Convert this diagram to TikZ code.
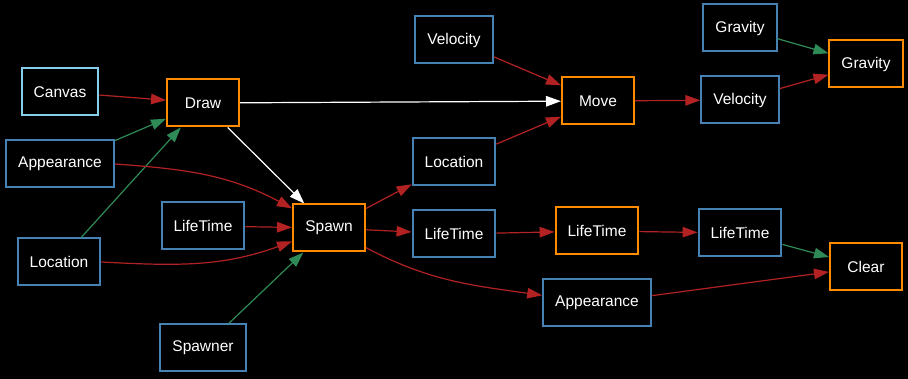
\documentclass[tikz,border=0pt]{standalone}
\usepackage{fontspec}
\setmainfont{Liberation Sans}
\usetikzlibrary{arrows.meta}

\definecolor{compblue}{HTML}{4682B4}
\definecolor{skyblue}{HTML}{87CEEB}
\definecolor{sysorange}{HTML}{FF8C00}
\definecolor{readred}{HTML}{B22222}
\definecolor{writegreen}{HTML}{2E8B57}

\tikzset{
  box/.style={draw, line width=2pt, text=white, minimum width=72pt,
    minimum height=47pt, inner xsep=12pt,
    font=\fontsize{15.5}{18}\selectfont},
  comp/.style={box, draw=compblue},
  res/.style={box, draw=skyblue},
  sys/.style={box, draw=sysorange},
  tip/.style={line width=1.2pt, -{Triangle[length=15pt,width=10.5pt]}},
  rd/.style={tip, draw=readred, readred},
  wr/.style={tip, draw=writegreen, writegreen},
  dep/.style={tip, draw=white, white}
}

\begin{document}
\begin{tikzpicture}[x=1pt,y=-1pt]

\fill[black] (0,0) rectangle (908,379);
\useasboundingbox (0,0) rectangle (908,379);

%% vertices
\node[res]  (canvas)      at (60,92)   {Canvas};
\node[sys]  (draw)        at (203,103) {Draw};
\node[comp] (appearanceA) at (60,164)  {Appearance};
\node[comp] (locationA)   at (59,262)  {Location};
\node[comp] (lifetimeA)   at (203,226) {LifeTime};
\node[comp] (spawner)     at (203,348) {Spawner};
\node[sys]  (spawn)       at (329,228) {Spawn};
\node[comp] (velocityA)   at (454,40)  {Velocity};
\node[comp] (locationB)   at (454,162) {Location};
\node[comp] (lifetimeB)   at (454,234) {LifeTime};
\node[sys]  (move)        at (598,101) {Move};
\node[sys]  (lifetimeC)   at (597,231) {LifeTime};
\node[comp] (appearanceB) at (597,303) {Appearance};
\node[comp] (gravityA)    at (740,28)  {Gravity};
\node[comp] (velocityB)   at (740,100) {Velocity};
\node[comp] (lifetimeD)   at (740,233) {LifeTime};
\node[sys]  (gravityB)    at (866,64)  {Gravity};
\node[sys]  (clear)       at (866,267) {Clear};

%%% edges
\draw[rd] (canvas) -- (draw);
\draw[wr] (appearanceA) -- (draw);
\draw[wr] (locationA) -- (draw);
\draw[rd] (appearanceA.east) to[out=-4,in=152] (spawn);
\draw[rd] (locationA.east) to[out=-3,in=200] (spawn);
\draw[rd] (lifetimeA) -- (spawn);
\draw[wr] (spawner) -- (spawn);
\draw[dep] (draw) -- (spawn);
\draw[dep] (draw) -- (move);

\draw[rd] (velocityA) -- (move);
\draw[rd] (locationB) -- (move);
\draw[rd] (spawn) -- (locationB);
\draw[rd] (spawn) -- (lifetimeB);
\draw[rd] (spawn) to[out=-28,in=172] (appearanceB);
\draw[rd] (lifetimeB) -- (lifetimeC);
\draw[rd] (lifetimeC) -- (lifetimeD);

\draw[rd] (move) -- (velocityB);
\draw[rd] (velocityB) -- (gravityB);
\draw[wr] (gravityA) -- (gravityB);
\draw[wr] (lifetimeD) -- (clear);
\draw[rd] (appearanceB) -- (clear);

\end{tikzpicture}
\end{document}
